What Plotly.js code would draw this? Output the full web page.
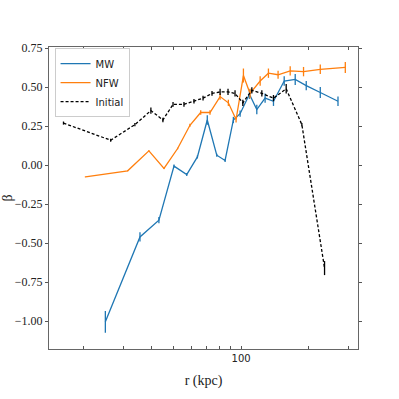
<!DOCTYPE html>
<html>
<head>
<meta charset="utf-8">
<script src="https://cdn.plot.ly/plotly-3.0.1.min.js"></script>
<style>
  body { margin: 0; background: white; }
  #stat { width: 399px; height: 399px; }
</style>
</head>
<body>
<div id="stat"></div>
<script>
// MW profile
const mwR = [25.0, 35.6, 43.2, 50.4, 57.4, 64.0, 70.8, 78.0, 84.9, 92.4, 99.0, 108.9, 117.4, 127.8, 139.2, 155.3, 173.8, 194.5, 224.5, 269]
const mwBeta = [-1.005, -0.46, -0.353, -0.006, -0.06, 0.053, 0.29, 0.064, 0.03, 0.29, 0.33, 0.455, 0.357, 0.43, 0.41, 0.54, 0.55, 0.51, 0.466, 0.41]
const mwErr = [0.07, 0.03, 0.02, 0.01, 0.01, 0.01, 0.03, 0.01, 0.01, 0.02, 0.02, 0.03, 0.03, 0.03, 0.03, 0.03, 0.035, 0.03, 0.035, 0.03]

// NFW profile
const nfwR = [20.4, 31.4, 39.0, 45.5, 52.3, 59.3, 66.2, 72.8, 80.7, 87.8, 95.0, 102.4, 109.6, 121.5, 132.2, 145.9, 165.1, 189.2, 224.5, 289.9]
const nfwBeta = [-0.075, -0.036, 0.092, -0.021, 0.107, 0.256, 0.338, 0.338, 0.44, 0.40, 0.293, 0.575, 0.46, 0.54, 0.59, 0.58, 0.605, 0.60, 0.615, 0.627]
const nfwErr = [0.003, 0.003, 0.003, 0.003, 0.005, 0.01, 0.015, 0.015, 0.02, 0.02, 0.02, 0.045, 0.03, 0.03, 0.03, 0.025, 0.03, 0.03, 0.03, 0.035]

// initial conditions
const iniR = [16.3, 26.4, 33.8, 39.8, 45.0, 49.9, 55.8, 61.8, 67.8, 74.3, 80.7, 87.5, 94.0, 101.8, 111.6, 123.6, 139.2, 158.5, 186, 234.5]
const iniBeta = [0.27, 0.16, 0.26, 0.35, 0.29, 0.39, 0.39, 0.41, 0.43, 0.46, 0.47, 0.47, 0.46, 0.40, 0.48, 0.46, 0.43, 0.49, 0.26, -0.66]
const iniErr = [0.01, 0.01, 0.01, 0.02, 0.015, 0.015, 0.015, 0.015, 0.015, 0.015, 0.02, 0.02, 0.02, 0.02, 0.02, 0.02, 0.02, 0.03, 0.01, 0.045]

const xTicks = [20, 30, 40, 50, 60, 70, 80, 90, 100, 200, 300]
const xTickText = ['', '', '', '', '', '', '', '', '100', '', '']
const yTicks = [-1.0, -0.75, -0.5, -0.25, 0.0, 0.25, 0.5, 0.75]

const makeTrace = (name, r, beta, err, color, dash) => {
    return {
        type: 'scatter',
        mode: 'lines',
        name: name,
        x: r,
        y: beta,
        line: {color: color, width: 1.3, dash: dash},
        error_y: {type: 'data', array: err, visible: true, color: color, thickness: 1.3, width: 0}
    }
}

const data = [
    makeTrace('MW', mwR, mwBeta, mwErr, '#1f77b4', 'solid'),
    makeTrace('NFW', nfwR, nfwBeta, nfwErr, '#ff7f0e', 'solid'),
    makeTrace('Initial', iniR, iniBeta, iniErr, '#000000', '3px,2px')
]

var layout = {
    width: 399,
    height: 399,
    margin: {l: 49, r: 41, t: 47, b: 50},
    paper_bgcolor: 'white',
    plot_bgcolor: 'white',
    showlegend: true,
    legend: {
        x: 0.018, y: 0.996, xanchor: 'left', yanchor: 'top',
        bordercolor: '#cccccc', borderwidth: 1, bgcolor: 'white',
        font: {family: 'DejaVu Sans', size: 10, color: '#222'},
        itemwidth: 30, tracegroupgap: 0
    },
    xaxis: {
        type: 'log',
        range: [Math.log10(14.06), Math.log10(330)],
        tickmode: 'array',
        tickvals: xTicks,
        ticktext: xTickText,
        ticks: 'inside',
        ticklen: 3,
        tickcolor: '#555',
        showgrid: false,
        zeroline: false,
        showline: true,
        linecolor: '#666',
        linewidth: 1,
        mirror: 'ticks',
        tickfont: {family: 'DejaVu Sans', size: 10, color: '#222'},
        title: {text: 'r (kpc)', font: {family: 'Liberation Serif', size: 14, color: '#222'}, standoff: 12}
    },
    yaxis: {
        range: [-1.179, 0.758],
        tickmode: 'array',
        tickvals: yTicks,
        tickformat: '.2f',
        ticks: 'outside',
        ticklen: 3,
        tickcolor: '#555',
        showgrid: false,
        zeroline: false,
        showline: true,
        linecolor: '#666',
        linewidth: 1,
        mirror: 'ticks',
        tickfont: {family: 'Liberation Serif', size: 12, color: '#222'},
        title: {text: 'β', font: {family: 'Liberation Serif', size: 14, color: '#222'}, standoff: 1}
    }
}

Plotly.newPlot('stat', data, layout, {displayModeBar: false, staticPlot: true})
</script>
</body>
</html>
